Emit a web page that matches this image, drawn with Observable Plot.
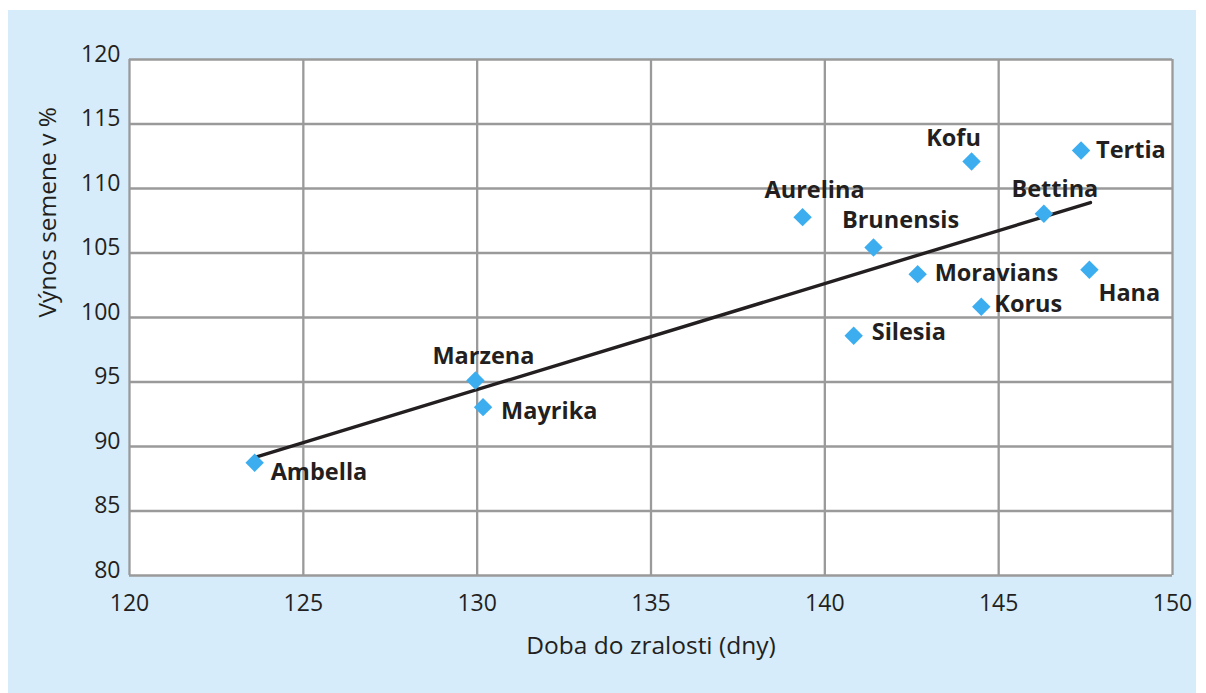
<!DOCTYPE html>
<html>
<head>
<meta charset="utf-8">
<script src="https://cdn.jsdelivr.net/npm/d3@7"></script>
<script src="https://cdn.jsdelivr.net/npm/@observablehq/plot@0.6"></script>
<style>
  html, body { margin: 0; padding: 0; background: #ffffff; }
  #wrap { position: relative; width: 1206px; height: 693px; overflow: hidden; }
  #panel { position: absolute; left: 8px; top: 10px; width: 1188px; height: 683px; background: #d6ecfa; }
  #chart { position: absolute; left: 0; top: 0; }
</style>
</head>
<body>
<div id="wrap"><div id="panel"></div><div id="chart"></div></div>
<script>
const varieties = ["Ambella","Marzena","Mayrika","Aurelina","Brunensis","Kofu","Tertia","Bettina","Moravians","Hana","Korus","Silesia"];
const maturityDays = [123.6, 129.95, 130.17, 139.36, 141.4, 144.22, 147.37, 146.3, 142.67, 147.61, 144.5, 140.83];
const seedYield = [88.74, 95.12, 93.05, 107.78, 105.43, 112.09, 112.95, 108.04, 103.36, 103.7, 100.83, 98.58];
const trendDays = [123.68, 147.64];
const trendYield = [89.22, 108.91];
const xTicks = [120, 125, 130, 135, 140, 145, 150];
const yTicks = [80, 85, 90, 95, 100, 105, 110, 115, 120];
const xTitle = "Doba do zralosti (dny)";
const yTitle = "Výnos semene v %";

const points = varieties.map((name, i) => ({name, x: maturityDays[i], y: seedYield[i]}));
const trend = trendDays.map((x, i) => ({x, y: trendYield[i]}));

// label placement (layout only): [textAnchor, dx, dy]
const placement = {
  Ambella: ["start", 16, 10], Marzena: ["middle", 8, -24], Mayrika: ["start", 18, 4],
  Aurelina: ["middle", 12, -27], Brunensis: ["middle", 27, -27], Kofu: ["middle", -18, -23],
  Tertia: ["start", 15, 0], Bettina: ["middle", 11, -24], Moravians: ["start", 17, -1],
  Hana: ["start", 9, 24], Korus: ["start", 13, -2], Silesia: ["start", 18, -3]
};

const font = "'Open Sans', sans-serif";
const labelMarks = points.map(p => {
  const [anchor, dx, dy] = placement[p.name];
  return Plot.text([p], {x: "x", y: "y", text: "name", textAnchor: anchor, dx, dy,
    fontSize: 23.5, fontWeight: "bold", fill: "#231f20"});
});

const chart = Plot.plot({
  width: 1206, height: 693,
  marginLeft: 129, marginTop: 59, marginRight: 34, marginBottom: 118,
  style: {background: "transparent", fontFamily: font},
  x: {domain: [120, 150]},
  y: {domain: [80, 120]},
  marks: [
    Plot.frame({fill: "white", stroke: null}),
    Plot.ruleX(xTicks, {stroke: "#9a9a9a", strokeWidth: 2.3}),
    Plot.ruleY(yTicks, {stroke: "#9a9a9a", strokeWidth: 2.3}),
    Plot.axisX({ticks: xTicks, tickSize: 0, tickPadding: 19, fontSize: 23, fill: "#231f20", label: null}),
    Plot.axisY({ticks: yTicks, tickSize: 0, tickPadding: 9, fontSize: 23, fill: "#231f20", label: null, dy: -5}),
    Plot.line(trend, {x: "x", y: "y", stroke: "#231f20", strokeWidth: 3.4}),
    Plot.dot(points, {x: "x", y: "y", symbol: "diamond2", r: 8.3, fill: "#3caef0", stroke: null}),
    ...labelMarks,
    Plot.text([xTitle], {frameAnchor: "bottom", dy: 78, fontSize: 24.5, fill: "#231f20"}),
    Plot.text([yTitle], {frameAnchor: "left", dx: -81, rotate: -90, fontSize: 24.5, fill: "#231f20"})
  ]
});
document.getElementById("chart").appendChild(chart);
</script>
</body>
</html>
